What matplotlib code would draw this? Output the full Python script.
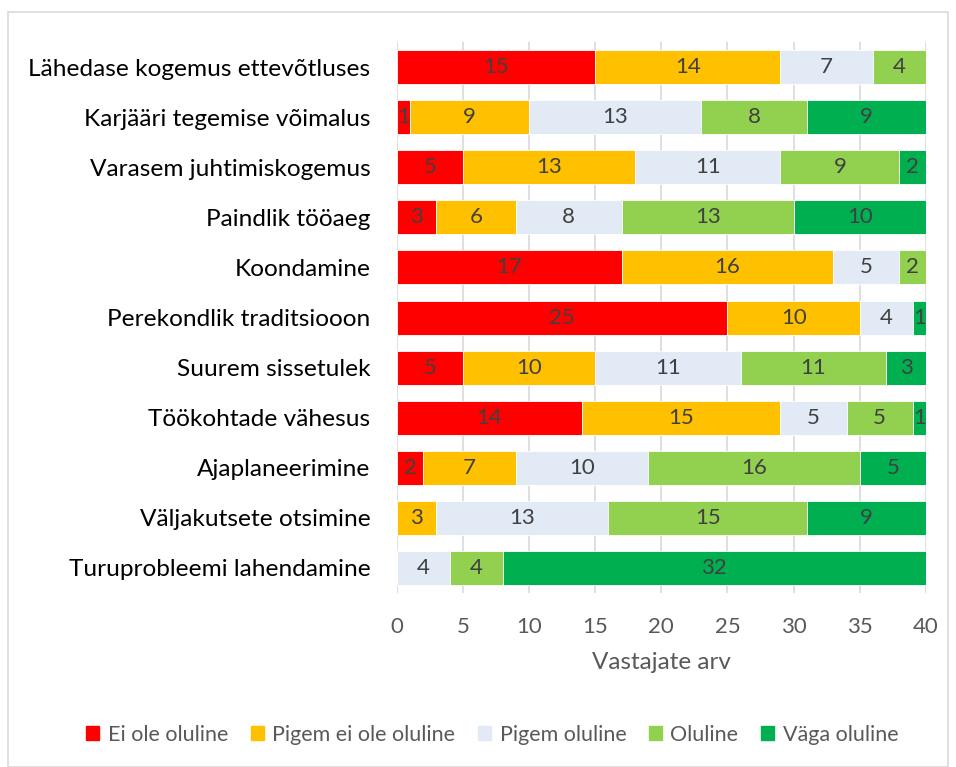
import matplotlib
matplotlib.use("Agg")
import matplotlib.pyplot as plt
from matplotlib.patches import Rectangle
import numpy as np

categories = [
    "Lähedase kogemus ettevõtluses",
    "Karjääri tegemise võimalus",
    "Varasem juhtimiskogemus",
    "Paindlik tööaeg",
    "Koondamine",
    "Perekondlik traditsiooon",
    "Suurem sissetulek",
    "Töökohtade vähesus",
    "Ajaplaneerimine",
    "Väljakutsete otsimine",
    "Turuprobleemi lahendamine",
]
series_names = ["Ei ole oluline", "Pigem ei ole oluline", "Pigem oluline", "Oluline", "Väga oluline"]
ei_ole = [15, 1, 5, 3, 17, 25, 5, 14, 2, 0, 0]
pigem_ei = [14, 9, 13, 6, 16, 10, 10, 15, 7, 3, 0]
pigem = [7, 13, 11, 8, 5, 4, 11, 5, 10, 13, 4]
oluline = [4, 8, 9, 13, 2, 0, 11, 5, 16, 15, 4]
vaga = [0, 9, 2, 10, 0, 1, 3, 1, 5, 9, 32]
xticks = [0, 5, 10, 15, 20, 25, 30, 35, 40]
colors = ["#FF0000", "#FFC000", "#E2EAF6", "#92D050", "#00B050"]

plt.rcParams['font.family'] = ['Lato', 'DejaVu Sans']

fig = plt.figure(figsize=(9.56, 7.67), dpi=100)
ax = fig.add_axes([0.415, 0.227, 0.5535, 0.718])

data = [ei_ole, pigem_ei, pigem, oluline, vaga]
y = np.arange(len(categories))
left = np.zeros(len(categories))
for name, vals, c in zip(series_names, data, colors):
    vals = np.array(vals, dtype=float)
    bars = ax.barh(y, vals, left=left, height=0.68, color=c, label=name,
                   edgecolor="white", linewidth=0.6, zorder=3)
    for b, v in zip(bars, vals):
        if v > 0:
            ax.text(b.get_x() + b.get_width() / 2, b.get_y() + b.get_height() / 2,
                    f"{int(v)}", ha="center", va="center", fontsize=16,
                    color="#404040", zorder=4)
    left += vals

ax.set_ylim(len(categories) - 0.5, -0.5)
ax.set_xlim(0, 40)
ax.set_xticks(xticks)
ax.set_yticks(y)
ax.set_yticklabels(categories, fontsize=17.6, color="#000000")
ax.tick_params(axis="x", labelsize=16, colors="#595959", length=0, pad=17)
ax.tick_params(axis="y", length=0, pad=19)
ax.grid(axis="x", color="#D9D9D9", linewidth=1.2, zorder=0)
for s in ax.spines.values():
    s.set_visible(False)
ax.set_xlabel("Vastajate arv", fontsize=17.5, color="#595959", labelpad=11)

handles = [Rectangle((0, 0), 1, 1, color=c) for c in colors]
fig.legend(handles, series_names, loc="center", bbox_to_anchor=(0.515, 0.042),
           ncol=5, frameon=False, fontsize=15.5, handlelength=0.6, handleheight=0.6,
           columnspacing=1.05, handletextpad=0.4, labelcolor="#595959")

fig.add_artist(Rectangle((0.008, 0.0), 0.984, 0.985, transform=fig.transFigure,
                         fill=False, edgecolor="#D9D9D9", linewidth=1.2))

fig.savefig("out.png", dpi=100)
